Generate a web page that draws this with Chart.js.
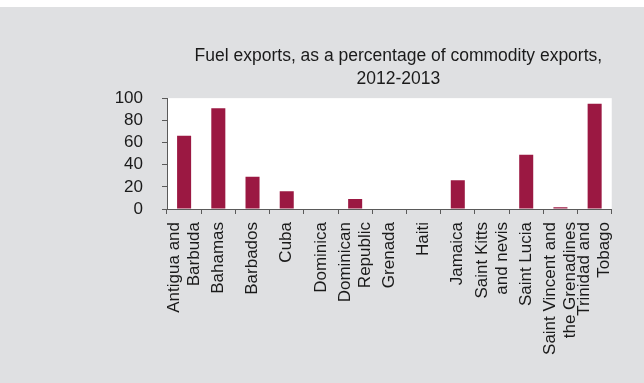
<!DOCTYPE html>
<html>
<head>
<meta charset="utf-8">
<script src="https://cdn.jsdelivr.net/npm/chart.js@4/dist/chart.umd.min.js"></script>
<style>
  html, body { margin: 0; padding: 0; background: #ffffff; }
  #wrap { position: absolute; left: 0; top: 7px; width: 644px; height: 376px; background: #dfe0e2; }
  canvas { display: block; }
</style>
</head>
<body>
<div id="wrap"><canvas id="c" width="644" height="376"></canvas></div>
<script>
const categories = [
  ["Antigua and", "Barbuda"], "Bahamas", "Barbados", "Cuba", "Dominica",
  ["Dominican", "Republic"], "Grenada", "Haiti", "Jamaica",
  ["Saint Kitts", "and nevis"], "Saint Lucia",
  ["Saint Vincent and", "the Grenadines"], ["Trinidad and", "Tobago"]
];
const fuelShare = [66, 91, 29, 16, 0, 9, 0, 0, 26, 0, 49, 1.5, 95];
const titleLines = ["Fuel exports, as a percentage of commodity exports,", "2012-2013"];
const yTicks = [0, 20, 40, 60, 80, 100];

const textColor = "#1a1a1a";
const axisColor = "#5a5a5a";
const fontFamily = "'Liberation Sans', Arial, sans-serif";

// Category scale whose multi-line rotated labels are centred on their tick
class CenteredCategoryScale extends Chart.CategoryScale {
  _computeLabelItems(chartArea) {
    const items = super._computeLabelItems(chartArea);
    items.forEach(it => {
      if (Array.isArray(it.label) && it.label.length > 1) {
        const lh = it.font.lineHeight;
        it.textOffset = (it.textOffset || 0) - (it.label.length - 1) * lh / 2;
      }
    });
    return items;
  }
}
CenteredCategoryScale.id = "centeredCategory";
CenteredCategoryScale.defaults = Chart.CategoryScale.defaults;
Chart.register(CenteredCategoryScale);

const plotBg = {
  id: "plotBg",
  afterLayout(chart) {
    const t = chart.titleBlock;
    if (t) { t.left += 9; t.right += 9; }
  },
  beforeDraw(chart) {
    const a = chart.chartArea, ctx = chart.ctx;
    ctx.save();
    ctx.fillStyle = "#ffffff";
    ctx.fillRect(a.left, a.top, a.right - a.left, a.bottom - a.top);
    ctx.restore();
  }
};

new Chart(document.getElementById("c"), {
  type: "bar",
  data: {
    labels: categories,
    datasets: [{
      data: fuelShare,
      backgroundColor: "#9b1842",
      borderWidth: 0,
      barPercentage: 0.41,
      categoryPercentage: 1
    }]
  },
  options: {
    responsive: false,
    animation: false,
    devicePixelRatio: 1,
    layout: { padding: { top: 38, right: 28, bottom: 0, left: 0 } },
    plugins: {
      legend: { display: false },
      tooltip: { enabled: false },
      title: {
        display: true,
        text: titleLines,
        fullSize: false,
        color: textColor,
        font: { family: fontFamily, size: 17.5, weight: "normal", lineHeight: 1.29 },
        padding: { top: 0, bottom: 8 }
      }
    },
    scales: {
      x: {
        type: "centeredCategory",
        afterFit(s) { s.height = 174; },
        grid: { display: true, drawOnChartArea: false, drawTicks: true, tickLength: 5, offset: true, color: axisColor, lineWidth: 1 },
        border: { display: true, color: axisColor, width: 1 },
        ticks: {
          autoSkip: false,
          minRotation: 90,
          maxRotation: 90,
          padding: 8,
          color: textColor,
          font: { family: fontFamily, size: 17, lineHeight: 1.18 }
        }
      },
      y: {
        min: 0,
        max: 100,
        afterFit(s) { s.width = 167; },
        afterBuildTicks(s) { s.ticks = yTicks.map(v => ({ value: v })); },
        grid: { display: true, drawOnChartArea: false, drawTicks: true, tickLength: 5, color: axisColor, lineWidth: 1 },
        border: { display: true, color: axisColor, width: 1 },
        ticks: {
          autoSkip: false,
          padding: 19,
          color: textColor,
          font: { family: fontFamily, size: 17 }
        }
      }
    }
  },
  plugins: [plotBg]
});
</script>
</body>
</html>
